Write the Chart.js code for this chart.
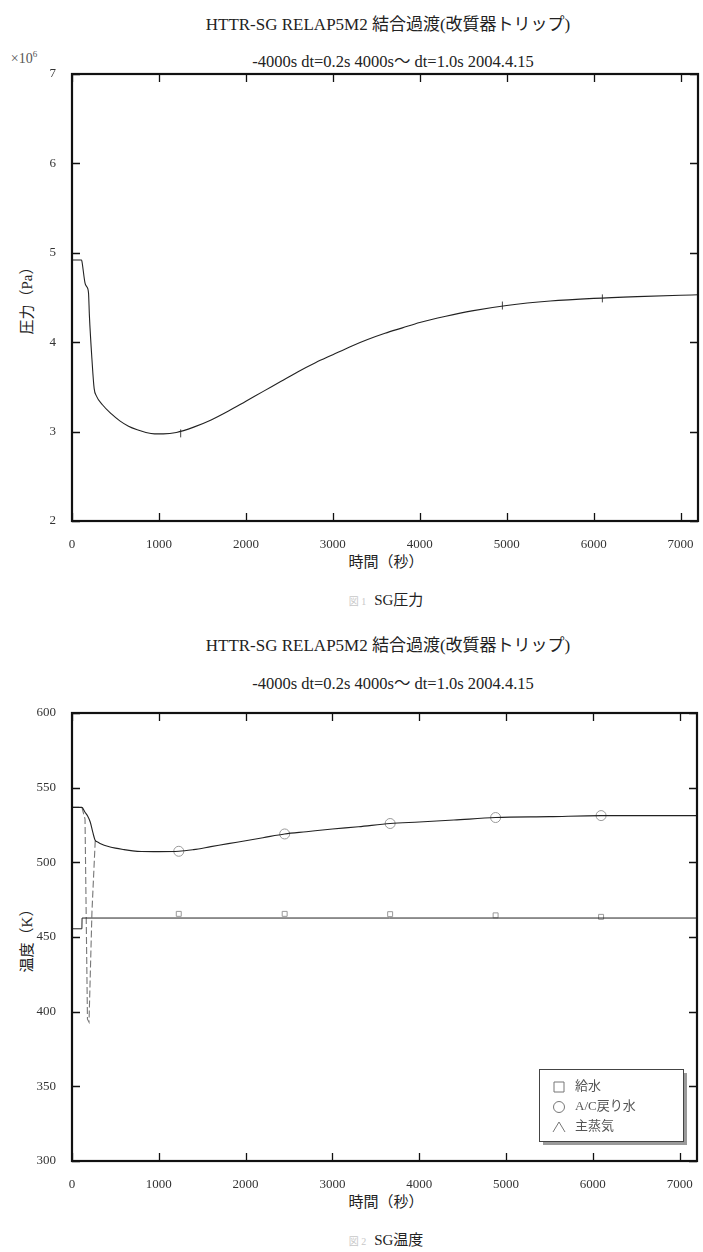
<!DOCTYPE html>
<html>
<head>
<meta charset="utf-8">
<script src="https://cdn.jsdelivr.net/npm/chart.js@4.4.1/dist/chart.umd.min.js"></script>
<style>
    body { margin: 0; background: #fff; width: 703px; height: 1252px; position: relative; overflow: hidden;
           font-family: "Liberation Serif", "Noto Sans CJK JP", serif; color: #222; }
    .txt { position: absolute; white-space: nowrap; transform: translate(-50%, -50%); }
    .title { font-size: 17px; }
    .sub { font-size: 16.5px; }
    .axt { font-size: 15px; }
    .cap { font-size: 15px; }
    .cap span { color: #c8c8c8; font-size: 10px; margin-right: 8px; }
    .ytitle { transform: translate(-50%, -50%) rotate(-90deg); }
    .box { position: absolute; left: 0; }
</style>
</head>
<body>

<div class="txt title" style="left:388px; top:22px">HTTR-SG RELAP5M2 結合過渡(改質器トリップ)</div>
<div class="txt sub" style="left:393px; top:60px">-4000s dt=0.2s 4000s～ dt=1.0s 2004.4.15</div>
<div class="txt" style="left:24px; top:58px; font-size:14px; color:#555">×10<sup style="font-size:9px">6</sup></div>
<div class="txt axt ytitle" style="left:25px; top:297px">圧力（Pa）</div>
<div class="txt axt" style="left:386px; top:560px">時間（秒）</div>
<div class="txt cap" style="left:386px; top:598px"><span>図 1</span>SG圧力</div>

<div class="txt title" style="left:388px; top:643px">HTTR-SG RELAP5M2 結合過渡(改質器トリップ)</div>
<div class="txt sub" style="left:393px; top:682px">-4000s dt=0.2s 4000s～ dt=1.0s 2004.4.15</div>
<div class="txt axt ytitle" style="left:25px; top:937px">温度（K）</div>
<div class="txt axt" style="left:386px; top:1200px">時間（秒）</div>
<div class="txt cap" style="left:386px; top:1238px"><span>図 2</span>SG温度</div>

<div class="box" style="top:0"><canvas id="pressChart" width="703" height="563"></canvas></div>
<div class="box" style="top:620px"><canvas id="tempChart" width="703" height="583"></canvas></div>

<script>
const xTicks = [0, 1000, 2000, 3000, 4000, 5000, 6000, 7000];

// SG圧力 (×10^6 Pa)
const pressTime = [0, 110, 115, 150, 170, 190, 200, 230, 255, 280, 350, 450, 550, 650, 750, 850, 950, 1050, 1200,
    1400, 1600, 1800, 2000, 2200, 2400, 2600, 2800, 3000, 3200, 3400, 3600, 3800, 4000, 4300, 4600, 5000,
    5500, 6000, 6500, 7000, 7200];
const pressVal = [4.92, 4.92, 4.9, 4.66, 4.62, 4.55, 4.3, 3.8, 3.48, 3.4, 3.3, 3.2, 3.12, 3.06, 3.02, 2.99, 2.975,
    2.975, 2.99, 3.05, 3.13, 3.23, 3.34, 3.45, 3.56, 3.67, 3.77, 3.86, 3.95, 4.03, 4.1, 4.16, 4.22, 4.29,
    4.35, 4.41, 4.46, 4.49, 4.51, 4.525, 4.53];
const pressTicks = [2, 3, 4, 5, 6, 7];
const pressMarkTime = [1250, 4950, 6100];
const pressMarkVal = [2.98, 4.41, 4.49];

// SG温度 (K)
const tempTicks = [300, 350, 400, 450, 500, 550, 600];
const feedTime = [0, 114, 116, 7200];
const feedVal = [455.5, 455.5, 462.7, 462.7];
const acTime = [0, 114, 150, 180, 210, 240, 265, 300, 350, 400, 500, 600, 700, 800, 1000, 1230, 1400, 1600,
    1800, 2000, 2200, 2450, 2700, 3000, 3300, 3665, 4000, 4400, 4880, 5500, 6095, 6600, 7200];
const acVal = [536.8, 536.8, 533.5, 531, 527, 520, 515, 513.5, 512, 511, 509.5, 508.5, 507.7, 507.3, 507.2,
    507.4, 508.5, 510.5, 512.5, 514.5, 516.5, 519, 520.5, 522.3, 523.8, 526, 527, 528.3, 530, 530.6, 531.3,
    531.3, 531.3];
const steamTime = [0, 114, 150, 178, 196, 230, 268];
const steamVal = [536.8, 536.8, 529, 395, 393, 467, 515];
const markTime = [1230, 2450, 3665, 4880, 6095];
const feedMarkVal = [465.5, 465.5, 465.3, 464.5, 463.5];
const acMarkVal = [507.4, 519, 526, 530, 531.3];

const legendLabels = ['給水', 'A/C戻り水', '主蒸気'];
const legendSymbols = ['rect', 'circle', 'triangle'];

const xy = (xs, ys) => xs.map((x, i) => ({ x: x, y: ys[i] }));
const FONT = '"Liberation Serif", "Noto Sans CJK JP", serif';

// 枠と内向きの目盛り
const frame = {
    id: 'frame',
    afterDatasetsDraw(chart) {
        const { ctx, chartArea: a, scales: { x, y } } = chart;
        ctx.save();
        ctx.strokeStyle = '#111';
        ctx.lineWidth = 1.3;
        x.ticks.forEach(t => {
            const px = Math.round(x.getPixelForValue(t.value)) + 0.5;
            ctx.beginPath();
            ctx.moveTo(px, a.bottom); ctx.lineTo(px, a.bottom - 8);
            ctx.moveTo(px, a.top); ctx.lineTo(px, a.top + 8);
            ctx.stroke();
        });
        y.ticks.forEach(t => {
            const py = Math.round(y.getPixelForValue(t.value)) + 0.5;
            ctx.beginPath();
            ctx.moveTo(a.left, py); ctx.lineTo(a.left + 8, py);
            ctx.moveTo(a.right, py); ctx.lineTo(a.right - 8, py);
            ctx.stroke();
        });
        ctx.lineWidth = 2.2;
        ctx.strokeRect(a.left, a.top, a.right - a.left, a.bottom - a.top);
        ctx.restore();
    }
};

// 凡例 (影つきの箱)
const boxLegend = {
    id: 'boxLegend',
    afterDraw(chart) {
        if (!chart.options.plugins.boxLegend) return;
        const { ctx, chartArea: a } = chart;
        const w = 144, h = 72;
        const bx = a.right - 14 - w, by = a.bottom - 20 - h;
        ctx.save();
        ctx.fillStyle = '#9a9a9a';
        ctx.fillRect(bx + 4, by + 4, w, h);
        ctx.fillStyle = '#fff';
        ctx.fillRect(bx, by, w, h);
        ctx.strokeStyle = '#444';
        ctx.lineWidth = 1;
        ctx.strokeRect(bx + 0.5, by + 0.5, w, h);
        ctx.font = '13px ' + FONT;
        ctx.textBaseline = 'middle';
        legendLabels.forEach((lab, i) => {
            const cy = by + 18 + i * 20, cx = bx + 20;
            ctx.strokeStyle = '#777';
            ctx.beginPath();
            if (legendSymbols[i] === 'rect') ctx.rect(cx - 5, cy - 5, 10, 10);
            else if (legendSymbols[i] === 'circle') ctx.arc(cx, cy, 5.5, 0, Math.PI * 2);
            else { ctx.moveTo(cx - 6, cy + 5); ctx.lineTo(cx, cy - 5); ctx.lineTo(cx + 6, cy + 5); }
            ctx.stroke();
            ctx.fillStyle = '#555';
            ctx.fillText(lab, bx + 36, cy);
        });
        ctx.restore();
    }
};

function axes(yTicks, yw, xh) {
    return {
        x: {
            type: 'linear', min: 0, max: 7200,
            afterFit: s => { s.height = xh; s.paddingLeft = 0; s.paddingRight = 0; },
            afterBuildTicks: s => { s.ticks = xTicks.map(v => ({ value: v })); },
            grid: { display: false },
            border: { display: false },
            ticks: { padding: 8, color: '#333', font: { family: FONT, size: 13 }, callback: v => String(v) }
        },
        y: {
            type: 'linear', min: yTicks[0], max: yTicks[yTicks.length - 1],
            afterFit: s => { s.width = yw; s.paddingTop = 0; s.paddingBottom = 0; },
            afterBuildTicks: s => { s.ticks = yTicks.map(v => ({ value: v })); },
            grid: { display: false },
            border: { display: false },
            ticks: { padding: 8, color: '#333', font: { family: FONT, size: 13 }, callback: v => String(v) }
        }
    };
}

Chart.defaults.font.family = FONT;

new Chart(document.getElementById('pressChart').getContext('2d'), {
    type: 'scatter',
    data: {
        datasets: [
            { label: 'SG圧力', data: xy(pressTime, pressVal), showLine: true, borderColor: '#222', borderWidth: 1.1,
              pointRadius: 0, cubicInterpolationMode: 'monotone' },
            { label: 'mark', data: xy(pressMarkTime, pressMarkVal), showLine: false, pointStyle: 'line',
              rotation: 90, pointRadius: 4, borderColor: '#444', borderWidth: 1 }
        ]
    },
    options: {
        responsive: false,
        animation: false,
        layout: { padding: { top: 74, right: 2, left: 0, bottom: 0 } },
        scales: axes(pressTicks, 72, 42),
        plugins: { legend: { display: false }, tooltip: { enabled: false } }
    },
    plugins: [frame]
});

new Chart(document.getElementById('tempChart').getContext('2d'), {
    type: 'scatter',
    data: {
        datasets: [
            { label: '給水', data: xy(feedTime, feedVal), showLine: true, borderColor: '#222', borderWidth: 1,
              pointRadius: 0 },
            { label: 'A/C戻り水', data: xy(acTime, acVal), showLine: true, borderColor: '#222', borderWidth: 1.1,
              pointRadius: 0, cubicInterpolationMode: 'monotone' },
            { label: '主蒸気', data: xy(steamTime, steamVal), showLine: true, borderColor: '#777', borderWidth: 1.1,
              borderDash: [7, 3], pointRadius: 0 },
            { label: '給水 mark', data: xy(markTime, feedMarkVal), showLine: false, pointStyle: 'rect',
              pointRadius: 3.5, borderColor: '#999', borderWidth: 1, backgroundColor: 'rgba(0,0,0,0)' },
            { label: 'A/C mark', data: xy(markTime, acMarkVal), showLine: false, pointStyle: 'circle',
              pointRadius: 5, borderColor: '#999', borderWidth: 1, backgroundColor: 'rgba(0,0,0,0)' }
        ]
    },
    options: {
        responsive: false,
        animation: false,
        layout: { padding: { top: 93, right: 2, left: 0, bottom: 0 } },
        scales: axes(tempTicks, 72, 42),
        plugins: { legend: { display: false }, tooltip: { enabled: false }, boxLegend: true }
    },
    plugins: [frame, boxLegend]
});
</script>
</body>
</html>
